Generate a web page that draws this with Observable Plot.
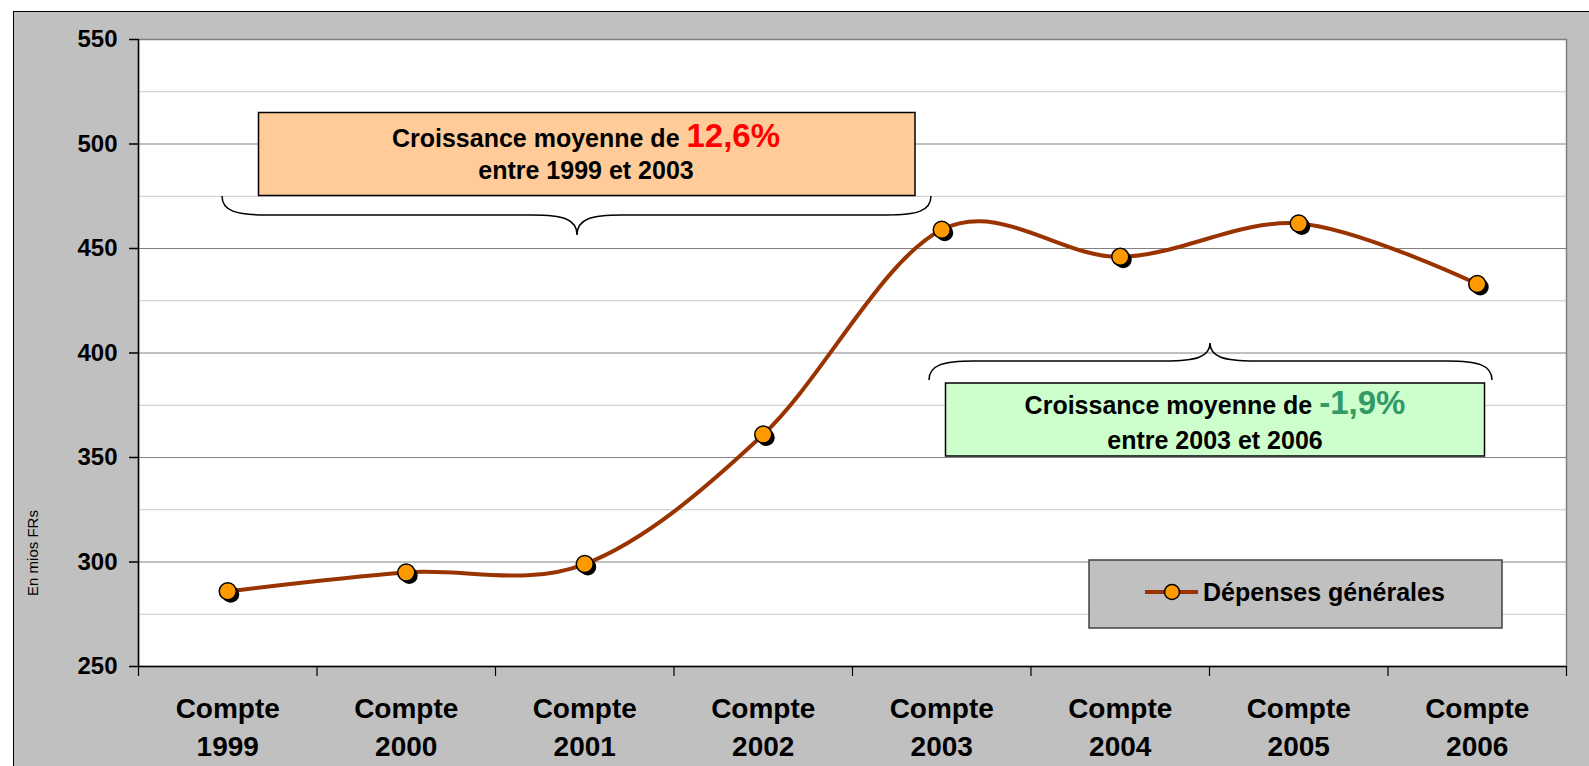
<!DOCTYPE html>
<html>
<head>
<meta charset="utf-8">
<script src="https://cdn.jsdelivr.net/npm/d3@7"></script>
<script src="https://cdn.jsdelivr.net/npm/@observablehq/plot@0.6"></script>
<style>
  html, body { margin: 0; padding: 0; background: #ffffff; overflow: hidden; }
  #wrap { position: relative; width: 1589px; height: 766px; overflow: hidden; font-family: "Liberation Sans", Arial, sans-serif; }
  #bg { position: absolute; left: 13px; top: 11px; width: 1600px; height: 800px; background: #C0C0C0; border: 1px solid #000; }
  #wrap svg { position: absolute; left: 0; top: 0; }
</style>
</head>
<body>
<div id="wrap"><div id="bg"></div></div>
<script>
// ---- data ----
const categories = ["Compte 1999", "Compte 2000", "Compte 2001", "Compte 2002", "Compte 2003", "Compte 2004", "Compte 2005", "Compte 2006"];
const values = [286, 295, 299, 361, 459, 446, 462, 433];
const seriesName = "Dépenses générales";
const yTicks = [250, 300, 350, 400, 450, 500, 550];
const yMinorTicks = [275, 325, 375, 425, 475, 525];
const yLabel = "En mios FRs";

const table = categories.map((c, i) => ({pos: i + 0.5, label: c.replace(" ", "\n"), value: values[i]}));
const boundaries = d3.range(0, categories.length + 1);

const FONT = '"Liberation Sans", Arial, sans-serif';
const lineColor = "#993300";
const dotColor = "#FF9900";

const chart = Plot.plot({
  width: 1589,
  height: 766,
  marginLeft: 138,
  marginRight: 23,
  marginTop: 39,
  marginBottom: 100,
  style: {background: "transparent", fontFamily: FONT, color: "black"},
  x: {type: "linear", domain: [0, categories.length], axis: null},
  y: {domain: [250, 550], axis: null},
  marks: [
    Plot.frame({fill: "white", stroke: "#808080", strokeWidth: 1.5}),
    Plot.ruleY(yMinorTicks, {stroke: "#C8C8C8", strokeWidth: 1}),
    Plot.ruleY(yTicks.slice(1, -1), {stroke: "#808080", strokeWidth: 1}),
    Plot.ruleX([0], {stroke: "black", strokeWidth: 1.5}),
    Plot.ruleY([250], {stroke: "black", strokeWidth: 1.5}),
    Plot.axisY({ticks: yTicks, label: null, tickSize: 9, tickPadding: 12, fontSize: 24, fontWeight: "bold", tickFormat: d => String(d), stroke: "black", strokeWidth: 1.5}),
    Plot.axisX({ticks: boundaries, label: null, tickSize: 10, tickFormat: () => "", stroke: "black", strokeWidth: 1.2}),
    Plot.text(table, {x: "pos", frameAnchor: "bottom", text: "label", dy: 24, lineAnchor: "top", lineHeight: 1.36, fontSize: 28, fontWeight: "bold", fill: "black"}),
    Plot.line(table, {x: "pos", y: "value", curve: "cardinal", tension: 0, stroke: lineColor, strokeWidth: 4}),
    Plot.dot(table, {x: "pos", y: "value", r: 8.5, fill: "black", dx: 3, dy: 3}),
    Plot.dot(table, {x: "pos", y: "value", r: 8.5, fill: dotColor, stroke: "black", strokeWidth: 1.5})
  ]
});
document.getElementById("wrap").appendChild(chart);

// ---- annotations overlay ----
const NS = "http://www.w3.org/2000/svg";
const ov = d3.select("#wrap").append("svg")
  .attr("xmlns", NS).attr("width", 1589).attr("height", 766)
  .style("font-family", FONT);

function box(x, y, w, h, fill) {
  ov.append("rect").attr("x", x).attr("y", y).attr("width", w).attr("height", h)
    .attr("fill", fill).attr("stroke", "black").attr("stroke-width", 1.5);
}
function twoLine(cx, y1, y2, pct, pctColor, line2) {
  const t = ov.append("text").attr("x", cx).attr("y", y1).attr("text-anchor", "middle")
    .attr("font-weight", "bold");
  t.append("tspan").attr("font-size", 25).text("Croissance moyenne de\u00A0");
  t.append("tspan").attr("font-size", 33).attr("fill", pctColor).text(pct);
  ov.append("text").attr("x", cx).attr("y", y2).attr("text-anchor", "middle")
    .attr("font-weight", "bold").attr("font-size", 25).text(line2);
}
// brace: xL..xR, tip at xm; yh = horizontal line, yE = ends, yT = tip
function brace(xL, xR, xm, yh, yE, yT) {
  const s = Math.sign(yE - yh);
  const p = d3.path();
  p.moveTo(xL, yE);
  p.bezierCurveTo(xL, yh + s * 4, xL + 14, yh, xL + 45, yh);
  p.lineTo(xm - 45, yh);
  p.bezierCurveTo(xm - 14, yh, xm, yh - s * 4, xm, yT);
  p.moveTo(xm, yT);
  p.bezierCurveTo(xm, yh - s * 4, xm + 14, yh, xm + 45, yh);
  p.lineTo(xR - 45, yh);
  p.bezierCurveTo(xR - 14, yh, xR, yh + s * 4, xR, yE);
  ov.append("path").attr("d", p.toString()).attr("fill", "none")
    .attr("stroke", "black").attr("stroke-width", 1.5);
}

brace(222, 931, 577, 215, 196, 235);
box(258.5, 112.5, 656.5, 83, "#FFCC99");
twoLine(586, 147, 178.5, "12,6%", "#FF0000", "entre 1999 et 2003");

brace(929, 1492, 1210, 361, 380, 343);
box(945.5, 383, 539, 73, "#CCFFCC");
twoLine(1215, 413.5, 448.5, "-1,9%", "#339966", "entre 2003 et 2006");

// legend
ov.append("rect").attr("x", 1089).attr("y", 560).attr("width", 413).attr("height", 68)
  .attr("fill", "#C0C0C0").attr("stroke", "#404040").attr("stroke-width", 1.5);
ov.append("line").attr("x1", 1145).attr("x2", 1198).attr("y1", 592).attr("y2", 592)
  .attr("stroke", lineColor).attr("stroke-width", 4);
ov.append("circle").attr("cx", 1172).attr("cy", 592).attr("r", 7.5)
  .attr("fill", dotColor).attr("stroke", "black").attr("stroke-width", 1.5);
ov.append("text").attr("x", 1203).attr("y", 601).attr("font-weight", "bold")
  .attr("font-size", 25).text(seriesName);

// y label
ov.append("text").attr("transform", "translate(38,553) rotate(-90)")
  .attr("text-anchor", "middle").attr("font-size", 15).text(yLabel);
</script>
</body>
</html>
